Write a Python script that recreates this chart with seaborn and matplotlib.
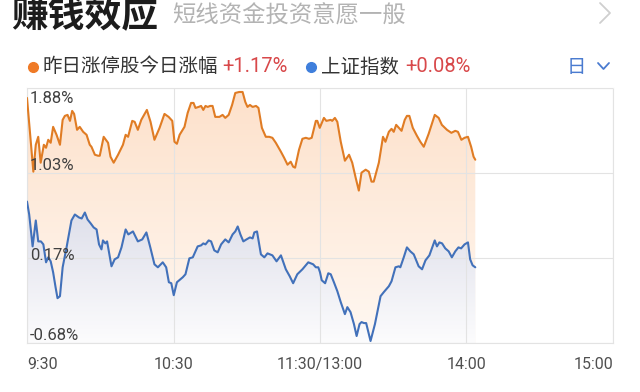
import numpy as np
import pandas as pd
import matplotlib
matplotlib.use("Agg")
import matplotlib.pyplot as plt
import seaborn as sns
from matplotlib.colors import LinearSegmentedColormap
from matplotlib.lines import Line2D
import matplotlib.transforms as mtransforms

# ---------------- data ----------------
title = "赚钱效应"
subtitle = "短线资金投资意愿一般"
series_names = ["昨日涨停股今日涨幅", "上证指数"]
series_changes = ["+1.17%", "+0.08%"]
period_label = "日"
x_ticks = [0, 60, 120, 180, 240]
x_tick_labels = ["9:30", "10:30", "11:30/13:00", "14:00", "15:00"]
y_ticks = [-0.68, 0.17, 1.03, 1.88]
y_tick_labels = ["-0.68%", "0.17%", "1.03%", "1.88%"]

# trading minutes since 9:30 (lunch break removed), value in %
orange_t = [0.0, 2.6, 3.6, 4.6, 5.6, 6.9, 7.8, 8.7, 9.7, 10.7,
            12.1, 13.5, 14.6, 15.5, 16.6, 17.6, 18.5, 19.3, 20.5, 21.6,
            23.0, 24.4, 25.7, 26.4, 27.8, 29.1, 29.8, 31.4, 33.2, 34.2,
            35.5, 37.3, 39.3, 40.4, 41.4, 43.1, 44.1, 45.4, 46.8, 49.1,
            50.6, 52.2, 54.3, 56.3, 58.0, 59.5, 60.4, 61.4, 62.5, 64.5,
            65.8, 67.2, 68.2, 69.0, 70.3, 71.3, 72.2, 73.1, 74.0, 75.0,
            76.0, 77.1, 78.8, 80.1, 81.2, 82.6, 84.0, 85.3, 86.9, 88.3,
            89.4, 90.3, 91.3, 92.4, 93.8, 94.8, 96.2, 97.8, 99.2, 100.5,
            101.9, 104.0, 105.3, 106.7, 108.0, 109.0, 109.8, 111.4, 112.8, 114.2,
            115.5, 116.6, 118.3, 118.9, 119.9, 121.6, 122.6, 124.4, 125.0, 126.1,
            127.1, 128.5, 130.2, 131.9, 133.2, 134.6, 135.9, 137.0, 138.7, 140.0,
            141.1, 142.0, 144.1, 145.8, 146.8, 148.2, 149.3, 150.2, 151.2, 152.3,
            153.4, 154.7, 155.6, 156.6, 158.0, 159.7, 161.1, 162.5, 164.5, 167.0,
            168.6, 169.9, 172.0, 173.8, 175.4, 176.5, 177.9, 179.2, 180.6, 181.9,
            182.9, 183.6]
orange_v = [1.78, 1.04, 1.31, 1.39, 1.13, 1.31, 1.28, 1.36, 1.33, 1.49,
            1.41, 1.31, 1.56, 1.60, 1.61, 1.55, 1.65, 1.62, 1.46, 1.49,
            1.44, 1.41, 1.31, 1.29, 1.21, 1.20, 1.20, 1.39, 1.33, 1.19,
            1.13, 1.21, 1.31, 1.41, 1.39, 1.55, 1.54, 1.46, 1.56, 1.66,
            1.54, 1.36, 1.48, 1.62, 1.59, 1.55, 1.34, 1.32, 1.41, 1.49,
            1.63, 1.73, 1.73, 1.68, 1.69, 1.70, 1.66, 1.70, 1.69, 1.70,
            1.70, 1.59, 1.59, 1.61, 1.58, 1.61, 1.71, 1.83, 1.84, 1.84,
            1.74, 1.69, 1.71, 1.69, 1.70, 1.68, 1.48, 1.39, 1.39, 1.38,
            1.33, 1.24, 1.18, 1.11, 1.14, 1.09, 1.08, 1.26, 1.37, 1.38,
            1.37, 1.38, 1.55, 1.55, 1.48, 1.58, 1.55, 1.56, 1.55, 1.58,
            1.54, 1.34, 1.15, 1.21, 1.13, 0.98, 0.85, 1.03, 1.06, 1.04,
            0.94, 0.94, 1.13, 1.39, 1.34, 1.44, 1.47, 1.44, 1.51, 1.48,
            1.45, 1.56, 1.60, 1.60, 1.48, 1.40, 1.34, 1.29, 1.42, 1.61,
            1.58, 1.51, 1.46, 1.43, 1.45, 1.44, 1.36, 1.38, 1.39, 1.29,
            1.19, 1.16]
blue_t = [0.0, 0.9, 2.3, 3.6, 4.6, 5.7, 6.7, 7.8, 8.7, 9.7,
          10.7, 11.7, 12.5, 13.5, 14.6, 16.2, 18.2, 19.6, 21.3, 22.4,
          23.7, 24.8, 26.1, 27.3, 28.5, 29.5, 30.5, 31.1, 32.1, 32.8,
          34.6, 35.9, 37.3, 38.7, 40.4, 41.5, 43.4, 45.4, 47.2, 48.9,
          50.5, 52.2, 53.6, 55.6, 57.0, 58.1, 59.1, 60.1, 61.4, 63.8,
          64.9, 66.5, 67.9, 69.9, 71.3, 72.2, 73.1, 74.4, 75.4, 76.7,
          78.1, 79.5, 81.2, 82.6, 84.2, 85.3, 86.3, 87.4, 88.6, 89.9,
          91.3, 92.4, 93.1, 94.2, 95.8, 97.2, 98.5, 100.5, 102.2, 104.0,
          106.0, 107.6, 109.0, 110.7, 112.8, 115.2, 117.2, 118.3, 119.3, 120.0,
          120.7, 122.1, 123.4, 124.4, 125.7, 127.1, 128.5, 130.2, 131.2, 132.5,
          133.9, 135.0, 136.2, 137.0, 138.0, 138.9, 140.7, 142.5, 144.8, 146.1,
          148.2, 149.3, 150.9, 152.3, 152.9, 154.3, 155.6, 157.0, 158.4, 160.4,
          161.8, 163.2, 164.8, 167.0, 167.9, 168.9, 170.0, 171.3, 172.7, 174.0,
          175.4, 176.7, 177.8, 179.2, 180.6, 181.5, 182.5, 183.6]
blue_v = [0.74, 0.61, 0.29, 0.55, 0.34, 0.34, 0.31, 0.13, 0.18, 0.14,
          0.03, -0.12, -0.23, -0.21, 0.08, 0.28, 0.55, 0.61, 0.58, 0.57,
          0.63, 0.56, 0.52, 0.48, 0.46, 0.31, 0.26, 0.35, 0.32, 0.34,
          0.09, 0.16, 0.18, 0.28, 0.46, 0.41, 0.44, 0.34, 0.36, 0.43,
          0.28, 0.11, 0.08, 0.13, 0.08, -0.07, -0.08, -0.20, -0.07, -0.02,
          0.01, 0.17, 0.18, 0.29, 0.30, 0.32, 0.31, 0.35, 0.34, 0.25,
          0.23, 0.31, 0.36, 0.33, 0.41, 0.44, 0.49, 0.41, 0.34, 0.36,
          0.38, 0.37, 0.43, 0.44, 0.21, 0.18, 0.22, 0.20, 0.14, 0.20,
          0.06, -0.01, -0.08, 0.01, 0.06, 0.13, 0.11, 0.08, 0.08, 0.03,
          -0.05, -0.08, 0.02, 0.01, -0.07, -0.16, -0.27, -0.39, -0.32, -0.37,
          -0.49, -0.61, -0.49, -0.47, -0.48, -0.48, -0.66, -0.49, -0.21, -0.17,
          -0.11, -0.06, 0.08, 0.09, 0.08, 0.18, 0.28, 0.24, 0.21, 0.09,
          0.06, 0.15, 0.20, 0.35, 0.29, 0.33, 0.32, 0.27, 0.24, 0.18,
          0.24, 0.28, 0.27, 0.31, 0.33, 0.16, 0.10, 0.08]

assert len(orange_t) == len(orange_v)
assert len(blue_t) == len(blue_v)

# ---------------- style ----------------
sns.set_theme(style="white")
plt.rcParams["font.family"] = ["Roboto", "Noto Sans CJK SC", "DejaVu Sans"]

ORANGE = "#e07c24"
BLUE = "#4271ba"
GRID = "#e3e3e3"
W, H = 640, 392

def fx(px):
    return px / W

def fy(py):
    return 1 - py / H

fig = plt.figure(figsize=(6.4, 3.92), dpi=100)
fig.patch.set_facecolor("white")
ax = fig.add_axes([fx(27), 49 / H, 586 / W, 255 / H])
ax.set_facecolor("white")

df = pd.concat([
    pd.DataFrame({"t": orange_t, "v": orange_v, "s": series_names[0]}),
    pd.DataFrame({"t": blue_t, "v": blue_v, "s": series_names[1]}),
], ignore_index=True)

ymin, ymax = y_ticks[0], y_ticks[-1]

# gradient fills clipped to the area under each line
def gradient_fill(t, v, top_color, bottom_color, top_val, z):
    poly = ax.fill_between(t, v, ymin, facecolor="none", edgecolor="none", zorder=z)
    cmap = LinearSegmentedColormap.from_list("g", [bottom_color, top_color])
    grad = np.linspace(0, 1, 256).reshape(-1, 1)
    im = ax.imshow(grad, cmap=cmap, aspect="auto", origin="lower",
                   extent=[0, 240, ymin, top_val], zorder=z, interpolation="bilinear")
    im.set_clip_path(poly.get_paths()[0], transform=ax.transData)

gradient_fill(orange_t, orange_v, "#fde1cb", "#fff8f2", max(orange_v), 1)
gradient_fill(blue_t, blue_v, "#dcdde9", "#fcfcfd", max(blue_v), 2)

sns.lineplot(data=df, x="t", y="v", hue="s", palette=[ORANGE, BLUE],
             estimator=None, sort=False, linewidth=1.5, legend=False, ax=ax, zorder=3)

ax.set_xlim(0, 240)
ax.set_ylim(ymin, ymax)

# grid
ax.set_yticks(y_ticks)
ax.set_xticks(x_ticks)
ax.grid(True, color=GRID, linewidth=0.8, zorder=0)
ax.set_axisbelow(False)
for gl in ax.get_xgridlines() + ax.get_ygridlines():
    gl.set_zorder(2.5)
for sp in ax.spines.values():
    sp.set_visible(True)
    sp.set_color(GRID)
    sp.set_linewidth(0.8)
ax.spines["top"].set_color("#ececec")

ax.set_xlabel("")
ax.set_ylabel("")
ax.set_yticklabels([])
ax.tick_params(axis="both", length=0)
ax.set_xticklabels(x_tick_labels, fontsize=11.5, color="#505050")
ax.tick_params(axis="x", pad=10)
xl = ax.get_xticklabels()
xl[0].set_horizontalalignment("left")
xl[-1].set_horizontalalignment("right")

# y labels inside the plot
vas = ["bottom", "center", "bottom", "top"]
dy = [0, 3, 0, -3]
for val, lab, va, d in zip(y_ticks, y_tick_labels, vas, dy):
    tr = mtransforms.offset_copy(ax.get_yaxis_transform(), fig=fig, x=3, y=d, units="dots")
    ax.text(0, val, lab, transform=tr, ha="left", va=va, fontsize=12,
            color="#404040", zorder=5)

# ---------------- header ----------------
fig.text(fx(11), fy(17), title, fontsize=26.5, fontweight="bold", color="#1c1c1c",
         ha="left", va="center", family=["Noto Sans CJK SC"])
fig.text(fx(172), fy(16), subtitle, fontsize=16.8, color="#b3b3b3",
         ha="left", va="center", family=["Noto Sans CJK SC"])
fig.add_artist(Line2D([fx(600), fx(610), fx(600)], [fy(3), fy(13), fy(23)],
                      color="#cfcfcf", linewidth=1.3))

# legend row
ly = fy(67)
fig.add_artist(Line2D([fx(33)], [ly], marker="o", markersize=7, color="#ef7a26",
                      linestyle="none"))
fig.text(fx(42), ly, series_names[0], fontsize=14, color="#333333", ha="left",
         va="center", family=["Noto Sans CJK SC"])
fig.text(fx(222), ly, series_changes[0], fontsize=14.5, color="#d8484a", ha="left",
         va="center")
fig.add_artist(Line2D([fx(311)], [ly], marker="o", markersize=7, color="#3f7fdc",
                      linestyle="none"))
fig.text(fx(321), ly, series_names[1], fontsize=14, color="#333333", ha="left",
         va="center", family=["Noto Sans CJK SC"])
fig.text(fx(405), ly, series_changes[1], fontsize=14.5, color="#d8484a", ha="left",
         va="center")
fig.text(fx(576), ly, period_label, fontsize=14, color="#4a7bd0", ha="center",
         va="center", family=["Noto Sans CJK SC"])
fig.add_artist(Line2D([fx(598), fx(603.5), fx(609)], [fy(63), fy(69), fy(63)],
                      color="#4a7bd0", linewidth=1.3))

fig.savefig("out.png", dpi=100, facecolor="white")
